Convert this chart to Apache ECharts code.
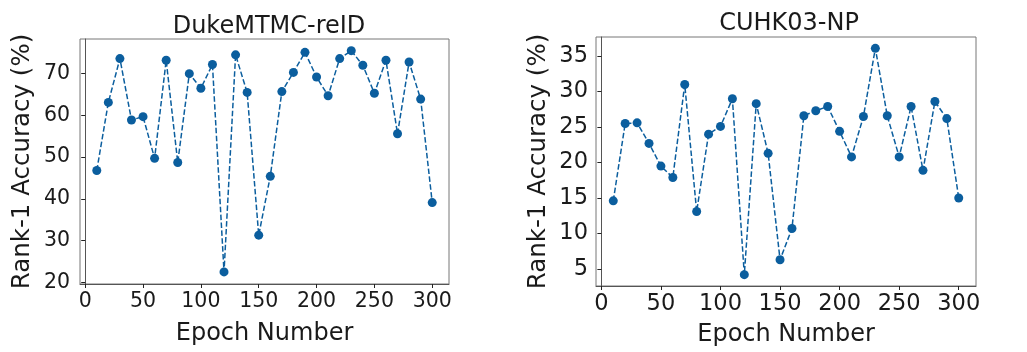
<!DOCTYPE html>
<html>
<head>
<meta charset="utf-8">
<script src="https://cdn.jsdelivr.net/npm/echarts@6/dist/echarts.min.js"></script>
<style>
html,body{margin:0;padding:0;background:#fff;}
#c{width:1027px;height:352px;}
</style>
</head>
<body>
<div id="c"></div>
<script>
const epochs = [10,20,30,40,50,60,70,80,90,100,110,120,130,140,150,160,170,180,190,200,210,220,230,240,250,260,270,280,290,300];
const dukeAcc = [46.8,63.1,73.6,58.9,59.7,49.7,73.2,48.7,70.0,66.5,72.2,22.5,74.5,65.5,31.3,45.4,65.7,70.3,75.1,69.2,64.7,73.6,75.5,72.0,65.3,73.2,55.6,72.8,63.9,39.1];
const cuhkAcc = [14.6,25.5,25.6,22.7,19.5,17.9,31.0,13.1,24.0,25.1,29.0,4.2,28.3,21.3,6.3,10.7,26.6,27.3,27.9,24.4,20.8,26.5,36.1,26.6,20.8,27.9,18.9,28.6,26.2,15.0];
const xTicks = [0,50,100,150,200,250,300];
const dukeTicks = [20,30,40,50,60,70];
const cuhkTicks = [5,10,15,20,25,30,35];
const titles = ['DukeMTMC-reID','CUHK03-NP'];
const xName = 'Epoch Number';
const yName = 'Rank-1 Accuracy (%)';

const COLOR = '#0b5e9e';
const FONT = 'DejaVu Sans';
const TXT = '#1a1a1a';
const chart = echarts.init(document.getElementById('c'));

function xAxis(gi, gap, fs, mg){
  return {
    type:'value', gridIndex:gi, min:-4.5, max:314.5,
    name:xName, nameLocation:'middle', nameGap:gap,
    nameTextStyle:{fontFamily:FONT,fontSize:24,color:TXT},
    axisLine:{show:true,lineStyle:{color:'#555',width:1}},
    axisTick:{show:true,inside:false,length:4,customValues:xTicks,lineStyle:{color:'#222'}},
    axisLabel:{customValues:xTicks,margin:mg,fontFamily:FONT,fontSize:fs,color:TXT},
    splitLine:{show:false}
  };
}
function yAxis(gi, mn, mx, ticks, gap, fs, mg){
  return {
    type:'value', gridIndex:gi, min:mn, max:mx,
    name:yName, nameLocation:'middle', nameGap:gap,
    nameTextStyle:{fontFamily:FONT,fontSize:24.5,color:TXT},
    axisLine:{show:true,lineStyle:{color:'#555',width:1}},
    axisTick:{show:true,inside:false,length:4,customValues:ticks,lineStyle:{color:'#222'}},
    axisLabel:{customValues:ticks,margin:mg,fontFamily:FONT,fontSize:fs,color:TXT},
    splitLine:{show:false}
  };
}
function series(gi, vals){
  return {
    type:'line', xAxisIndex:gi, yAxisIndex:gi,
    data: epochs.map((e,i)=>[e, vals[i]]),
    symbol:'circle', symbolSize:9, showSymbol:true,
    lineStyle:{color:COLOR,width:1.5,type:[5.5,2.4]},
    itemStyle:{color:COLOR}, emphasis:{disabled:true}, animation:false
  };
}
chart.setOption({
  animation:false,
  backgroundColor:'#fff',
  title:[
    {text:titles[0], left:264, top:10, textAlign:'center', textStyle:{fontFamily:FONT,fontSize:24,fontWeight:'normal',color:TXT}},
    {text:titles[1], left:784, top:7, textAlign:'center', textStyle:{fontFamily:FONT,fontSize:24,fontWeight:'normal',color:TXT}}
  ],
  grid:[
    {left:80, top:39, width:369, height:245, show:true, borderColor:'#777', borderWidth:1, backgroundColor:'transparent'},
    {left:596, top:37, width:380, height:252, show:true, borderColor:'#777', borderWidth:1, backgroundColor:'transparent'}
  ],
  xAxis:[xAxis(0,38,20.5,7), xAxis(1,37,22.5,7)],
  yAxis:[yAxis(0,19.6,78.3,dukeTicks,45,20.5,10), yAxis(1,2.6,37.7,cuhkTicks,45,22.5,8)],
  series:[series(0,dukeAcc), series(1,cuhkAcc)]
});
</script>
</body>
</html>
